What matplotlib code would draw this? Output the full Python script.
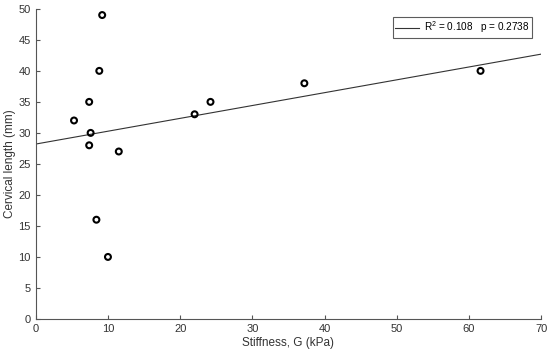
import matplotlib
matplotlib.use("Agg")
import matplotlib.pyplot as plt

stiffness = [5.3, 7.4, 7.6, 7.4, 8.8, 9.2, 8.4, 10.0, 11.5, 22.0, 24.2, 37.2, 61.6]
cervical = [32, 35, 30, 28, 40, 49, 16, 10, 27, 33, 35, 38, 40]
fit_x = [0, 70]
fit_y = [28.2, 42.7]
legend_label = "R$^2$ = 0.108   p = 0.2738"

plt.rcParams['font.family'] = ['Liberation Sans', 'DejaVu Sans']
plt.rcParams['mathtext.fontset'] = 'custom'
plt.rcParams['mathtext.rm'] = 'Liberation Sans'

fig = plt.figure(figsize=(5.5, 3.54), dpi=100)
ax = fig.add_axes([0.065, 0.099, 0.919, 0.876])
ax.plot(fit_x, fit_y, color='#333333', lw=0.8, label=legend_label)
ax.scatter(stiffness, cervical, s=18, facecolors='none', edgecolors='black', linewidths=1.5, zorder=3)
ax.set_xlim(0, 70)
ax.set_ylim(0, 50)
ax.set_xticks(range(0, 71, 10))
ax.set_yticks(range(0, 51, 5))
for s in ['top', 'right']:
    ax.spines[s].set_visible(False)
for s in ['left', 'bottom']:
    ax.spines[s].set_color('#555555')
    ax.spines[s].set_linewidth(0.8)
ax.tick_params(direction='in', length=3, colors='#555555', labelcolor='#333333', labelsize=8)
ax.set_xlabel("Stiffness, G (kPa)", fontsize=8.5, color='#333333', labelpad=2)
ax.set_ylabel("Cervical length (mm)", fontsize=8.5, color='#333333', labelpad=2)
leg = ax.legend(loc='upper right', bbox_to_anchor=(0.982, 0.974), borderaxespad=0,
                fontsize=7.2, frameon=True, fancybox=False, edgecolor='#333333',
                handlelength=2.4, handletextpad=0.5, borderpad=0.25)
leg.get_frame().set_linewidth(0.8)
fig.savefig("out.png", dpi=100)
